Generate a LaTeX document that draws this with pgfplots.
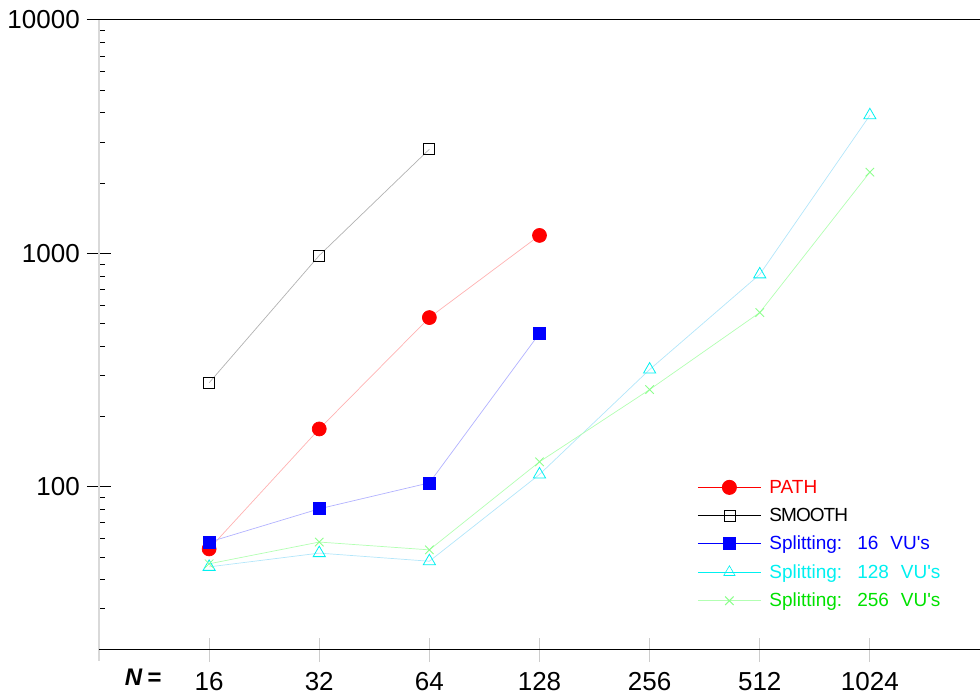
\documentclass[border=0pt]{standalone}
\usepackage{fontspec}
\setmainfont{Liberation Sans}
\usepackage{pgfplots}
\pgfplotsset{compat=1.18}
\definecolor{lgreen}{RGB}{0,225,0}
\definecolor{mycyan}{RGB}{0,240,240}
\begin{document}
\begin{tikzpicture}
\path[use as bounding box] (-99pt,-50pt) rectangle (881pt,650pt);
\begin{axis}[
  at={(0pt,0pt)}, anchor=south west,
  scale only axis, width=881pt, height=630pt,
  clip=false,
  ymode=log, ymin=20, ymax=10000,
  xmin=-1, xmax=7,
  xtick={0,1,2,3,4,5,6}, xticklabels={16,32,64,128,256,512,1024},
  ytick={100,1000,10000}, yticklabels={100,1000,10000},
  minor ytick={30,40,50,60,70,80,90,200,300,400,500,600,700,800,900,2000,3000,4000,5000,6000,7000,8000,9000},
  axis line style={draw=none},
  xtick pos=bottom, ytick pos=left,
  tick align=center,
  major tick length=24pt,
  minor tick length=6pt,
  xtick style={draw=black!20, line width=1pt},
  ytick style={draw=black, line width=1pt},
  minor y tick style={xshift=3pt},
  ticklabel style={font=\fontsize{26}{30}\selectfont, inner sep=0pt},
  yticklabel style={anchor=east, xshift=-7pt},
  xticklabel style={anchor=north, yshift=-10pt},
  legend style={at={(rel axis cs:0.679,0.270)}, anchor=north west, draw=none, fill=none,
    font=\fontsize{19}{22}\selectfont, row sep=13.3pt, column sep=8pt, inner sep=0pt,
    nodes={inner sep=0pt, outer sep=0pt}},
  legend cell align=left,
  legend image code/.code={\draw[mark repeat=2,mark phase=2,#1] plot coordinates {(0pt,0pt) (31.5pt,0pt) (63pt,0pt)};},
]
% axis lines
\draw[black!15, line width=1.5pt] (rel axis cs:0,1) -- ([yshift=-11pt]rel axis cs:0,0);
\draw[black, line width=1pt] (rel axis cs:0,0) -- (rel axis cs:1,0);
\draw[black, line width=1pt] ([xshift=-12pt]rel axis cs:0,1) -- (rel axis cs:1,1);

% SMOOTH
\addplot[forget plot, color=black!30, line width=0.7pt, mark=square, mark size=5.5pt, mark options={draw=black, line width=0.8pt}]
  coordinates {(0,279) (1,980) (2,2795)};
% PATH
\addplot[forget plot, color=red!30, line width=0.7pt, mark=*, mark size=7pt, mark options={fill=red, draw=red}]
  coordinates {(0,54.2) (1,177) (2,531) (3,1194)};
% Splitting 16
\addplot[forget plot, color=blue!30, line width=0.7pt, mark=square*, mark size=6pt, mark options={fill=blue, draw=blue}]
  coordinates {(0,58) (1,80.5) (2,104) (3,454)};
% Splitting 128
\addplot[forget plot, color=cyan!30, line width=0.7pt, mark=triangle, mark size=7pt, mark options={draw=mycyan, line width=0.8pt}]
  coordinates {(0,45.4) (1,52) (2,48) (3,113) (4,318) (5,813) (6,3906)};
% Splitting 256
\addplot[forget plot, color=green!30, line width=0.7pt, mark=x, mark size=6pt, mark options={draw=green!45, line width=0.8pt}]
  coordinates {(0,46.8) (1,58) (2,53.7) (3,128) (4,261) (5,558) (6,2229)};

\addlegendimage{color=red, line width=1pt, mark=*, mark size=7pt, mark options={fill=red}}
\addlegendentry{\textcolor{red}{PATH}}
\addlegendimage{color=black, line width=1pt, mark=square, mark size=5.5pt, mark options={line width=0.6pt, fill=white}}
\addlegendentry{\addfontfeature{LetterSpace=-5}SMOOTH}
\addlegendimage{color=blue, line width=1pt, mark=square*, mark size=6pt}
\addlegendentry{\textcolor{blue}{Splitting:\hspace{15pt}16\hspace{12pt}VU\textquotesingle s}}
\addlegendimage{color=mycyan, line width=1pt, mark=triangle, mark size=6.5pt, mark options={line width=0.6pt, fill=white}}
\addlegendentry{\textcolor{mycyan}{Splitting:\hspace{15pt}128\hspace{12pt}VU\textquotesingle s}}
\addlegendimage{color=green!30, line width=1pt, mark=x, mark size=6pt, mark options={draw=green!45}}
\addlegendentry{\textcolor{lgreen}{Splitting:\hspace{15pt}256\hspace{12pt}VU\textquotesingle s}}

\node[anchor=north, font=\fontsize{24}{28}\selectfont\bfseries\itshape, inner sep=0pt] at ([yshift=-19pt]axis cs:-0.6,20) {N\hspace{5pt}=};
\end{axis}
\end{tikzpicture}
\end{document}
